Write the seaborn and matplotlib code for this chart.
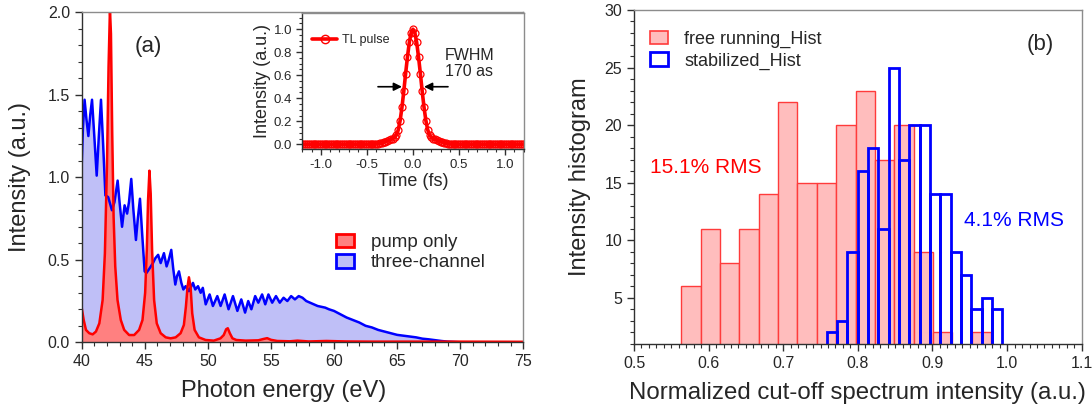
import numpy as np
import pandas as pd
import matplotlib
matplotlib.use("Agg")
import matplotlib.pyplot as plt
from matplotlib.ticker import MultipleLocator
from matplotlib.patches import Patch
from matplotlib.lines import Line2D
import seaborn as sns

# ---------------- data ----------------
# (a) harmonic spectra: photon energy (eV) and intensity (a.u.)
three_channel_energy = [
    40.0, 40.1, 40.23, 40.38, 40.53, 40.68, 40.82, 41.0, 41.19, 41.36, 41.53, 41.7,
    41.88, 42.1, 42.4, 42.6, 42.85, 43.0, 43.2, 43.4, 43.6, 43.75, 43.93, 44.1,
    44.3, 44.45, 44.62, 44.8, 44.99, 45.13, 45.4, 45.65, 45.84, 46.06, 46.26, 46.52,
    46.73, 46.9, 47.1, 47.25, 47.42, 47.55, 47.71, 47.9, 48.06, 48.24, 48.5, 48.82,
    49.0, 49.22, 49.43, 49.6, 49.83, 50.14, 50.4, 50.75, 51.01, 51.33, 51.64, 51.99,
    52.34, 52.65, 52.95, 53.2, 53.45, 53.75, 54.0, 54.3, 54.55, 54.8, 55.1, 55.4,
    55.7, 56.0, 56.3, 56.6, 56.9, 57.2, 57.5, 57.8, 58.1, 58.4, 58.7, 59.0,
    59.3, 59.6, 60.0, 60.5, 61.0, 61.5, 62.0, 62.5, 63.0, 63.5, 64.0, 64.5,
    65.0, 65.5, 66.0, 66.5, 67.0, 67.5, 68.0, 68.5, 69.0, 70.0, 75.0,
]
three_channel_intensity = [
    1.07, 1.30, 1.47, 1.35, 1.25, 1.38, 1.47, 1.25, 1.01, 1.25, 1.47, 1.20,
    0.89, 0.88, 0.80, 0.85, 0.98, 0.85, 0.70, 0.83, 0.78, 0.85, 0.99, 0.80,
    0.62, 0.75, 0.87, 0.65, 0.43, 0.42, 0.45, 0.48, 0.51, 0.53, 0.48, 0.54,
    0.46, 0.50, 0.56, 0.45, 0.35, 0.40, 0.43, 0.36, 0.32, 0.34, 0.31, 0.36,
    0.32, 0.34, 0.30, 0.33, 0.23, 0.29, 0.22, 0.28, 0.22, 0.29, 0.20, 0.28,
    0.19, 0.26, 0.18, 0.25, 0.20, 0.28, 0.24, 0.29, 0.23, 0.29, 0.24, 0.28,
    0.24, 0.27, 0.25, 0.28, 0.26, 0.28, 0.27, 0.25, 0.24, 0.23, 0.22, 0.215,
    0.21, 0.20, 0.19, 0.17, 0.15, 0.135, 0.12, 0.10, 0.09, 0.075, 0.065, 0.055,
    0.045, 0.04, 0.035, 0.03, 0.022, 0.018, 0.013, 0.008, 0.004, 0.0, 0.0,
]

pump_energy = [
    40.0, 40.16, 40.34, 40.6, 40.87, 41.13, 41.4, 41.66, 41.84, 42.0, 42.13, 42.24,
    42.32, 42.42, 42.53, 42.66, 42.84, 43.1, 43.37, 43.76, 44.16, 44.55, 44.82, 45.03,
    45.16, 45.26, 45.37, 45.47, 45.58, 45.74, 45.95, 46.26, 46.66, 47.05, 47.45, 47.84,
    48.1, 48.26, 48.39, 48.5, 48.63, 48.76, 48.95, 49.29, 49.82, 50.47, 51.0, 51.26,
    51.45, 51.58, 51.74, 51.95, 52.26, 53.0, 54.0, 54.4, 54.7, 55.0, 55.5, 56.5,
    57.1, 58.0, 59.4, 61.0, 63.0, 66.0, 70.0, 75.0,
]
pump_intensity = [
    0.21, 0.135, 0.075, 0.055, 0.048, 0.065, 0.115, 0.256, 0.54, 1.06, 1.67, 2.02,
    1.87, 1.27, 0.76, 0.46, 0.256, 0.135, 0.075, 0.044, 0.044, 0.075, 0.135, 0.30,
    0.56, 0.86, 1.04, 0.90, 0.56, 0.256, 0.115, 0.055, 0.03, 0.024, 0.03, 0.055,
    0.105, 0.216, 0.337, 0.394, 0.337, 0.176, 0.075, 0.03, 0.014, 0.01, 0.024, 0.044,
    0.079, 0.085, 0.055, 0.024, 0.014, 0.01, 0.012, 0.02, 0.025, 0.015, 0.008, 0.006,
    0.01, 0.005, 0.008, 0.005, 0.004, 0.004, 0.004, 0.003,
]

# (a) inset: transform-limited pulse, time grid in fs
tl_time = np.round(np.arange(-1.20, 1.2001, 0.02), 2)
tl_intensity = [
    0, 0, 0, 0, 0, 0, 0, 0, 0, 0, 0, 0, 0, 0, 0, 0, 0, 0, 0, 0,
    0, 0, 0, 0, 0, 0, 0, 0, 0, 0, 0, 0, 0, 0, 0, 0, 0, 0, 0,
    0.001, 0.002, 0.004, 0.008, 0.012, 0.017, 0.023, 0.029, 0.036, 0.042, 0.050,
    0.060, 0.080, 0.125, 0.205, 0.320, 0.460, 0.615, 0.760, 0.885, 0.970,
    1.000,
    0.970, 0.885, 0.760, 0.615, 0.460, 0.320, 0.205, 0.125, 0.080, 0.060,
    0.050, 0.042, 0.036, 0.029, 0.023, 0.017, 0.012, 0.008, 0.004, 0.002, 0.001,
    0, 0, 0, 0, 0, 0, 0, 0, 0, 0, 0, 0, 0, 0, 0, 0, 0, 0, 0, 0,
    0, 0, 0, 0, 0, 0, 0, 0, 0, 0, 0, 0, 0, 0, 0, 0, 0, 0, 0,
]

# (b) histograms of the normalized cut-off intensity
free_bin_start, free_bin_width = 0.5633, 0.02596
free_counts = [6, 11, 8, 11, 14, 22, 15, 15, 20, 23, 17, 20, 9, 2, 0, 2]
stab_bin_start, stab_bin_width = 0.7583, 0.01383
stab_counts = [2, 3, 9, 16, 18, 11, 25, 17, 20, 20, 14, 14, 9, 7, 4, 5, 4]

# ---------------- style ----------------
sns.set_style("ticks")
plt.rcParams["font.family"] = ["Liberation Sans", "DejaVu Sans"]
plt.rcParams["axes.unicode_minus"] = False

RED = "#ff0000"
BLUE = "#0000ff"
RED_FILL = "#ff8080"
BLUE_FILL = "#bfbff7"
PINK = "#ffbdbd"
PINK_EDGE = "#ff3b3b"
DARK = "#303030"
GREY = "#8c8c8c"


def frame(ax, tick_size):
    for side in ("left", "bottom"):
        ax.spines[side].set_color(DARK)
        ax.spines[side].set_linewidth(1.0)
    for side in ("top", "right"):
        ax.spines[side].set_visible(True)
        ax.spines[side].set_color(GREY)
        ax.spines[side].set_linewidth(1.0)
    ax.tick_params(which="both", direction="out", color=DARK, top=False, right=False,
                   labelsize=tick_size)
    ax.tick_params(which="major", length=5, width=1.0)
    ax.tick_params(which="minor", length=3, width=0.8)


fig = plt.figure(figsize=(10.92, 4.09), dpi=100)

# ---------------- (a) spectra ----------------
ax_a = fig.add_axes([0.0748, 0.1631, 0.4044, 0.8069])
ax_a.fill_between(three_channel_energy, three_channel_intensity, 0, color=BLUE_FILL, lw=0)
sns.lineplot(x=three_channel_energy, y=three_channel_intensity, ax=ax_a, color=BLUE,
             lw=1.8, sort=False, estimator=None)
ax_a.fill_between(pump_energy, pump_intensity, 0, color=RED_FILL, lw=0)
sns.lineplot(x=pump_energy, y=pump_intensity, ax=ax_a, color=RED, lw=1.8,
             sort=False, estimator=None)
ax_a.set_xlim(40, 75)
ax_a.set_ylim(0, 2.0)
ax_a.xaxis.set_major_locator(MultipleLocator(5))
ax_a.xaxis.set_minor_locator(MultipleLocator(1))
ax_a.yaxis.set_major_locator(MultipleLocator(0.5))
ax_a.yaxis.set_minor_locator(MultipleLocator(0.1))
frame(ax_a, 11.5)
ax_a.set_xlabel("Photon energy (eV)", fontsize=17, labelpad=8)
ax_a.xaxis.set_label_coords(0.457, -0.115)
ax_a.set_ylabel("Intensity (a.u.)", fontsize=17, labelpad=12)
ax_a.text(45.3, 1.79, "(a)", fontsize=16, ha="center", va="center")
handles_a = [
    Patch(facecolor=RED_FILL, edgecolor=RED, lw=2.0, label="pump only"),
    Patch(facecolor=BLUE_FILL, edgecolor=BLUE, lw=2.0, label="three-channel"),
]
ax_a.legend(handles=handles_a, loc="center left", bbox_to_anchor=(0.576, 0.272),
            frameon=False, fontsize=13.5, handlelength=0.95, handleheight=0.75,
            handletextpad=0.9, labelspacing=0.15, borderpad=0.0, borderaxespad=0.0)

# ---------------- (a) inset ----------------
ax_in = fig.add_axes([0.277, 0.636, 0.2024, 0.332])
sns.lineplot(x=tl_time, y=tl_intensity, ax=ax_in, color=RED, lw=2.6, marker="o",
             markersize=5, markerfacecolor="none", markeredgecolor=RED,
             markeredgewidth=0.9, estimator=None, sort=False)
ax_in.set_xlim(-1.2, 1.2)
ax_in.set_ylim(-0.04, 1.14)
ax_in.xaxis.set_major_locator(MultipleLocator(0.5))
ax_in.xaxis.set_minor_locator(MultipleLocator(0.1))
ax_in.yaxis.set_major_locator(MultipleLocator(0.2))
ax_in.yaxis.set_minor_locator(MultipleLocator(0.05))
frame(ax_in, 9.5)
ax_in.tick_params(which="major", length=4)
ax_in.tick_params(which="minor", length=2.5)
ax_in.set_xlabel("Time (fs)", fontsize=13, labelpad=1)
ax_in.set_ylabel("Intensity (a.u.)", fontsize=13, labelpad=2)
ax_in.legend(handles=[Line2D([], [], color=RED, lw=2.6, marker="o", markersize=6,
                             markerfacecolor="none", markeredgecolor=RED,
                             label="TL pulse")],
             loc="center left", bbox_to_anchor=(0.045, 0.80), frameon=False,
             fontsize=9, handlelength=2.0, handletextpad=0.4, borderpad=0.0,
             borderaxespad=0.0)
ax_in.annotate("", xy=(-0.12, 0.5), xytext=(-0.38, 0.5),
               arrowprops=dict(arrowstyle="-|>", color="black", lw=1.2,
                               mutation_scale=12, shrinkA=0, shrinkB=0))
ax_in.annotate("", xy=(0.12, 0.5), xytext=(0.38, 0.5),
               arrowprops=dict(arrowstyle="-|>", color="black", lw=1.2,
                               mutation_scale=12, shrinkA=0, shrinkB=0))
ax_in.text(0.35, 0.70, "FWHM\n170 as", fontsize=11.5, ha="left", va="center",
           linespacing=1.05)

# ---------------- (b) histograms ----------------
ax_b = fig.add_axes([0.5806, 0.1589, 0.41, 0.8167])
free_edges = free_bin_start + free_bin_width * np.arange(len(free_counts) + 1)
stab_edges = stab_bin_start + stab_bin_width * np.arange(len(stab_counts) + 1)
free_df = pd.DataFrame({"value": 0.5 * (free_edges[:-1] + free_edges[1:]),
                        "count": free_counts})
stab_df = pd.DataFrame({"value": 0.5 * (stab_edges[:-1] + stab_edges[1:]),
                        "count": stab_counts})

sns.histplot(data=free_df, x="value", weights="count", bins=list(free_edges), ax=ax_b,
             stat="count", element="bars", fill=True, color=PINK,
             edgecolor=PINK_EDGE, linewidth=1.0, alpha=1.0)
sns.histplot(data=stab_df, x="value", weights="count", bins=list(stab_edges), ax=ax_b,
             stat="count", element="bars", fill=False, color=BLUE,
             edgecolor=BLUE, linewidth=2.0)
ax_b.set_xlim(0.5, 1.1)
ax_b.set_ylim(1, 30)
ax_b.xaxis.set_major_locator(MultipleLocator(0.1))
ax_b.xaxis.set_minor_locator(MultipleLocator(0.01))
ax_b.yaxis.set_major_locator(MultipleLocator(5))
ax_b.yaxis.set_minor_locator(MultipleLocator(1))
frame(ax_b, 11.5)
ax_b.set_xlabel("Normalized cut-off spectrum intensity (a.u.)", fontsize=17.3, labelpad=8)
ax_b.set_ylabel("Intensity histogram", fontsize=17, labelpad=10)
ax_b.text(0.522, 16.3, "15.1% RMS", color=RED, fontsize=15, ha="left", va="center")
ax_b.text(0.9416, 11.7, "4.1% RMS", color=BLUE, fontsize=15, ha="left", va="center")
ax_b.text(1.045, 27.0, "(b)", fontsize=16, ha="center", va="center")
handles_b = [
    Patch(facecolor=PINK, edgecolor=PINK_EDGE, lw=1.2, label="free running_Hist"),
    Patch(facecolor="none", edgecolor=BLUE, lw=2.0, label="stabilized_Hist"),
]
ax_b.legend(handles=handles_b, loc="center left", bbox_to_anchor=(0.036, 0.880),
            frameon=False, fontsize=13, handlelength=1.0, handleheight=0.75,
            handletextpad=0.9, labelspacing=0.25, borderpad=0.0, borderaxespad=0.0)

fig.savefig("out.png", dpi=100)
